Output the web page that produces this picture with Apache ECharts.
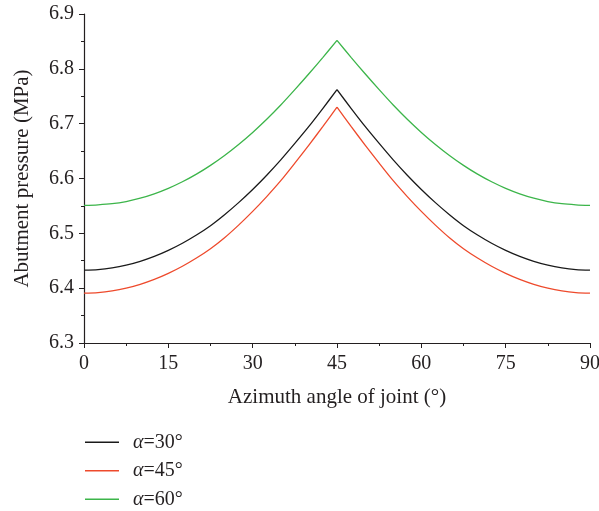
<!DOCTYPE html>
<html>
<head>
<meta charset="utf-8">
<script src="https://cdn.jsdelivr.net/npm/echarts@6/dist/echarts.min.js"></script>
<style>
  html, body { margin: 0; padding: 0; background: #fff; }
  #chart { width: 599px; height: 511px; }
</style>
</head>
<body>
<div id="chart"></div>
<script>
const angles = [0, 2.5, 5, 7.5, 10, 12.5, 15, 17.5, 20, 22.5, 25, 27.5, 30, 32.5, 35, 37.5, 40, 42.5, 45,
  47.5, 50, 52.5, 55, 57.5, 60, 62.5, 65, 67.5, 70, 72.5, 75, 77.5, 80, 82.5, 85, 87.5, 90]
const alpha30 = [6.433, 6.434, 6.437, 6.442, 6.449, 6.458, 6.469, 6.482, 6.497, 6.514, 6.534, 6.556, 6.580, 6.606, 6.634, 6.664, 6.695, 6.728, 6.762,
  6.728, 6.695, 6.664, 6.634, 6.606, 6.580, 6.556, 6.534, 6.514, 6.497, 6.482, 6.469, 6.458, 6.449, 6.442, 6.437, 6.434, 6.433]
const alpha45 = [6.391, 6.392, 6.395, 6.400, 6.407, 6.416, 6.427, 6.440, 6.455, 6.472, 6.492, 6.515, 6.540, 6.567, 6.596, 6.628, 6.661, 6.695, 6.730,
  6.695, 6.661, 6.628, 6.596, 6.567, 6.540, 6.515, 6.492, 6.472, 6.455, 6.440, 6.427, 6.416, 6.407, 6.400, 6.395, 6.392, 6.391]
const alpha60 = [6.551, 6.552, 6.554, 6.558, 6.564, 6.572, 6.582, 6.594, 6.608, 6.624, 6.642, 6.662, 6.684, 6.708, 6.734, 6.762, 6.791, 6.821, 6.852,
  6.821, 6.791, 6.762, 6.734, 6.708, 6.684, 6.662, 6.642, 6.624, 6.608, 6.594, 6.582, 6.572, 6.564, 6.558, 6.554, 6.552, 6.551]
const seriesNames = ['30°', '45°', '60°']
const colors = ['#1a1a1a', '#ee4a2c', '#3cb54a']

const font = 'Liberation Serif'
const txt = '#231f20'
const axisColor = '#231f20'

// the peak at 45° is a cusp, so each curve is drawn as two smooth halves
const peakIdx = angles.indexOf(45)
function half(vals, left) {
  const pts = angles.map((a, i) => [a, vals[i]])
  return left ? pts.slice(0, peakIdx + 1) : pts.slice(peakIdx)
}

const series = []
;[alpha30, alpha45, alpha60].forEach((vals, k) => {
  ;[true, false].forEach(left => {
    series.push({
      name: seriesNames[k],
      type: 'line',
      symbol: 'none',
      smooth: 0.3,
      color: colors[k],
      lineStyle: { width: 1.3, color: colors[k] },
      data: half(vals, left)
    })
  })
})

const chart = echarts.init(document.getElementById('chart'))
chart.setOption({
  animation: false,
  grid: { left: 84, right: 9, top: 14, bottom: 168, outerBoundsMode: 'none', containLabel: false },
  legend: {
    orient: 'vertical',
    left: 85,
    top: 432,
    padding: 0,
    icon: 'rect',
    itemWidth: 34,
    itemHeight: 1.5,
    itemGap: 8,
    data: seriesNames,
    textStyle: {
      fontFamily: font,
      fontSize: 20,
      lineHeight: 20.5,
      color: txt,
      padding: [0, 0, 0, 9],
      rich: { a: { fontFamily: font, fontSize: 20, lineHeight: 20.5, fontStyle: 'italic', color: txt } }
    },
    formatter: name => '{a|α}=' + name
  },
  xAxis: {
    type: 'value',
    min: 0,
    max: 90,
    interval: 15,
    name: 'Azimuth angle of joint (°)',
    nameLocation: 'middle',
    nameGap: 44,
    nameTextStyle: { fontFamily: font, fontSize: 21, color: txt },
    axisLine: { show: true, lineStyle: { color: axisColor, width: 1.2 } },
    axisTick: { show: true, inside: false, length: 5, lineStyle: { color: axisColor } },
    minorTick: { show: true, splitNumber: 2, length: 3, lineStyle: { color: axisColor } },
    axisLabel: { fontFamily: font, fontSize: 20, color: txt, margin: 11 },
    splitLine: { show: false }
  },
  yAxis: {
    type: 'value',
    min: 6.3,
    max: 6.9,
    interval: 0.1,
    name: 'Abutment pressure (MPa)',
    nameLocation: 'middle',
    nameGap: 51,
    nameTextStyle: { fontFamily: font, fontSize: 21, color: txt },
    axisLine: { show: true, lineStyle: { color: axisColor, width: 1.2 } },
    axisTick: { show: true, inside: false, length: 5, lineStyle: { color: axisColor } },
    minorTick: { show: true, splitNumber: 2, length: 3, lineStyle: { color: axisColor } },
    axisLabel: { fontFamily: font, fontSize: 20, color: txt, margin: 10, formatter: v => v.toFixed(1) },
    splitLine: { show: false }
  },
  series: series
})
</script>
</body>
</html>
